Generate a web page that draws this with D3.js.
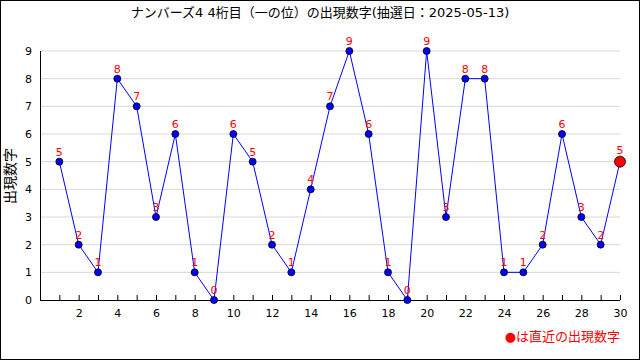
<!DOCTYPE html>
<html><head><meta charset="utf-8">
<script src="https://cdn.jsdelivr.net/npm/d3@7"></script>
<style>body{margin:0;background:#fff}svg{display:block}text{font-family:"DejaVu Sans","Noto Sans CJK JP",sans-serif}</style>
</head><body>
<script>
const title = "ナンバーズ4 4桁目（一の位）の出現数字(抽選日：2025-05-13)";
const yLabel = "出現数字";
const legendText = "●は直近の出現数字";
const draws = d3.range(1, 31);
const digits = [5,2,1,8,7,3,6,1,0,6,5,2,1,4,7,9,6,1,0,9,3,8,8,1,1,2,6,3,2,5];
const xTickLabels = [2,4,6,8,10,12,14,16,18,20,22,24,26,28,30];
const yTicks = [0,1,2,3,4,5,6,7,8,9];

const W = 640, H = 360;
const svg = d3.select("body").append("svg").attr("width", W).attr("height", H);
svg.append("rect").attr("x",0.5).attr("y",0.5).attr("width",W-1).attr("height",H-1).attr("fill","#fff").attr("stroke","#000");

const x = d3.scaleLinear().domain([0,30]).range([40,620]);
const y = d3.scaleLinear().domain([0,9]).range([300,51]);

// grid
svg.append("g").selectAll("line").data(yTicks.filter(d=>d>0)).join("line")
  .attr("x1",40).attr("x2",620).attr("y1",d=>y(d)).attr("y2",d=>y(d))
  .attr("stroke","#d8d8d8").attr("stroke-width",1);

// x axis
const xAxis = svg.append("g").attr("transform","translate(0,300)")
  .call(d3.axisBottom(x).tickValues(draws).tickSize(-5).tickPadding(9)
    .tickFormat(d => xTickLabels.includes(d) ? d : ""));
xAxis.select(".domain").attr("d","M40,0.5H620");
xAxis.selectAll("text").attr("font-size",11).attr("fill","#000");

// y axis
const yAxis = svg.append("g").attr("transform","translate(40,0)")
  .call(d3.axisLeft(y).tickValues(yTicks).tickSize(0).tickPadding(8));
yAxis.select(".domain").attr("d","M0.5,51V300");
yAxis.selectAll("text").attr("font-size",11).attr("fill","#000");

// line
svg.append("path").datum(digits)
  .attr("d", d3.line().x((d,i)=>x(draws[i])).y(d=>y(d)))
  .attr("fill","none").attr("stroke","#0000ff").attr("stroke-width",1);

// points
svg.append("g").selectAll("circle").data(digits).join("circle")
  .attr("cx",(d,i)=>x(draws[i])).attr("cy",d=>y(d))
  .attr("r",(d,i)=>i===digits.length-1?5.5:3.5)
  .attr("fill",(d,i)=>i===digits.length-1?"#ff0000":"#0000ff")
  .attr("stroke","#000").attr("stroke-width",0.8);

// value labels
svg.append("g").selectAll("text").data(digits).join("text")
  .attr("x",(d,i)=>x(draws[i])).attr("y",(d,i)=>y(d)-(i===digits.length-1?8:6))
  .attr("text-anchor","middle").attr("font-size",11).attr("fill","#ff0000")
  .text(d=>d);

// title
svg.append("text").attr("x",320).attr("y",17).attr("text-anchor","middle")
  .attr("font-size",13).attr("fill","#000").text(title);

// y label
svg.append("text").attr("transform","translate(15,176) rotate(-90)")
  .attr("text-anchor","middle").attr("font-size",14).attr("fill","#000").text(yLabel);

// legend
svg.append("text").attr("x",620).attr("y",341).attr("text-anchor","end")
  .attr("font-size",13).attr("fill","#ff0000").text(legendText);
</script>
</body></html>
